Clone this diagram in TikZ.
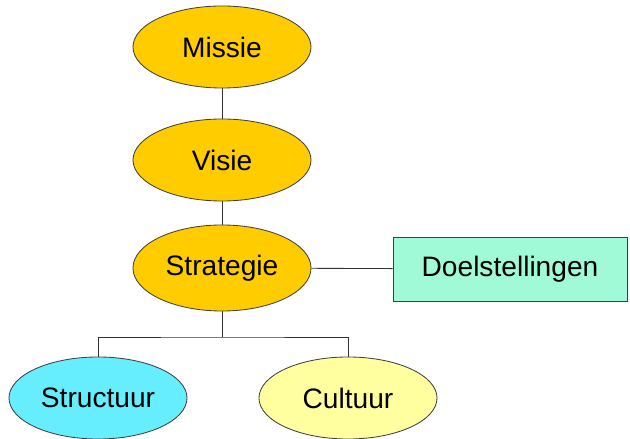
\documentclass[tikz,border=0pt]{standalone}
\usepackage{fontspec}
\setmainfont{Liberation Sans}
\usetikzlibrary{positioning,shapes.geometric}
\definecolor{goud}{RGB}{255,204,0}
\definecolor{cyaan}{RGB}{102,238,255}
\definecolor{lichtgeel}{RGB}{255,255,160}
\definecolor{munt}{RGB}{160,250,216}
\tikzset{
  basis/.style={draw=black!75,line width=0.6pt,inner sep=0pt,
                font=\fontsize{20}{24}\selectfont},
  ovaal/.style={basis,ellipse,minimum width=4.45cm,minimum height=2.05cm},
  blok/.style={basis,rectangle,minimum width=5.85cm,minimum height=1.6cm},
  lijn/.style={black!80,line width=0.6pt}
}

\begin{document}
\begin{tikzpicture}[x=0.025cm,y=0.025cm]
\useasboundingbox (0,0) rectangle (630,439);
% De kolom van ovalen
\node[ovaal,fill=goud] (missie) at (222,392) {Missie};
\node[ovaal,fill=goud] (visie) at (222,279) {Visie};
\node[ovaal,fill=goud,minimum height=2.15cm] (strategie) at (222,171) {Strategie};
% Rechthoek rechts
\node[blok,fill=munt] (doel) at (510,170) {Doelstellingen};
% Onderste ovalen
\node[ovaal,fill=cyaan] (structuur) at (98,41) {Structuur};
\node[ovaal,fill=lichtgeel] (cultuur) at (348,41) {Cultuur};
% Verbindingen
\draw[lijn] (missie) -- (visie);
\draw[lijn] (visie) -- (strategie);
\draw[lijn] (strategie) -- (doel);
\coordinate (splits) at (222,102);
\draw[lijn] (strategie) -- (splits);
\draw[lijn] (structuur) |- (splits) -| (cultuur);
\end{tikzpicture}
\end{document}
